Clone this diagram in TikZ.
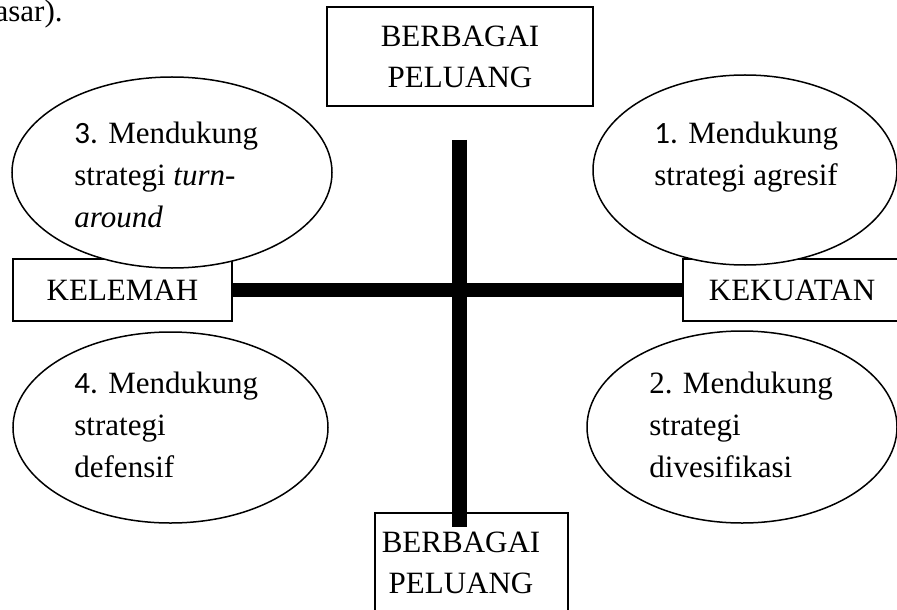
\documentclass[tikz,border=0pt]{standalone}
\usepackage{fontspec}
\setmainfont{Liberation Serif}
\newfontfamily\angka{Carlito}
\usetikzlibrary{positioning, shapes.geometric}

\begin{document}
\begin{tikzpicture}[x=0.5pt, y=-0.5pt,
        kotak/.style={rectangle, draw=black, line width=0.75pt, fill=white, inner sep=0pt, align=center, font=\fontsize{15.5}{20.5}\selectfont},
        elips/.style={ellipse, draw=black, line width=0.75pt, fill=white, inner sep=0pt},
        isi/.style={anchor=north west, inner sep=0pt, align=left, font=\fontsize{15.5}{21}\selectfont},
        batang/.style={line width=7.5pt, black}
    ]
        \useasboundingbox (0,0) rectangle (897,609);
        \node[anchor=base east, inner sep=0pt, font=\fontsize{15.5}{20.5}\selectfont] (potongan) at (63,22) {asar).};
        % kotak
        \node[kotak, minimum width=133pt, minimum height=49.5pt] (peluangatas) at (460,56.5) {BERBAGAI\\PELUANG};
        \node[kotak, minimum width=109.5pt, minimum height=31pt] (kelemah) at (122.5,290) {KELEMAH};
        \node[kotak, minimum width=109pt, minimum height=31pt] (kekuatan) at (792,290) {KEKUATAN};
        \node[kotak, minimum width=96.5pt, minimum height=50pt] (peluangbawah) at (471.5,563) {};
        \node[font=\fontsize{15.5}{20.5}\selectfont, align=center, inner sep=0pt] (teksbawah) at (461,563) {BERBAGAI\\PELUANG};
        % elips
        \node[elips, minimum width=160pt, minimum height=95.5pt] (kuadran3) at (172,172.5) {};
        \node[elips, minimum width=152pt, minimum height=95pt] (kuadran1) at (745,170) {};
        \node[elips, minimum width=157.5pt, minimum height=95.5pt] (kuadran4) at (170.5,427.5) {};
        \node[elips, minimum width=155pt, minimum height=96pt] (kuadran2) at (742,427) {};
        % sumbu
        \coordinate (sumbuatas) at (459,140);
        \coordinate (sumbubawah) at (459,527);
        \draw[batang, line width=7pt] (kelemah.east) -- (kekuatan.west);
        \draw[batang] (sumbuatas) -- (sumbubawah);
        % teks kuadran
        \node[isi] (teks3) at (74,122) {{\angka 3.} Mendukung\\strategi \textit{turn-}\\\textit{around}};
        \node[isi] (teks1) at (654,122) {{\angka 1.} Mendukung\\strategi agresif};
        \node[isi] (teks4) at (74,372) {{\angka 4.} Mendukung\\strategi\\defensif};
        \node[isi] (teks2) at (649,372) {2. Mendukung\\strategi\\divesifikasi};
    \end{tikzpicture}
\end{document}
